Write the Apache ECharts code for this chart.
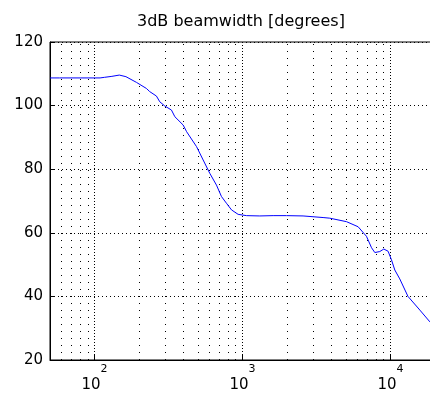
<!DOCTYPE html>
<html>
<head>
<meta charset="utf-8">
<script src="https://cdn.jsdelivr.net/npm/echarts@6/dist/echarts.min.js"></script>
<style>
html,body{margin:0;padding:0;background:#fff;}
#chart{width:430px;height:397px;}
</style>
</head>
<body>
<div id="chart"></div>
<script>
// Frequency (Hz) and 3dB beamwidth (degrees)
const freqs = [50, 58, 80, 109, 117, 131, 147, 163, 192, 224, 236, 262, 276, 298, 331, 349, 397, 419, 489, 542, 601, 667, 721, 779, 843, 934, 1064, 1309, 1611, 1982, 2566, 3505, 3890, 5044, 6045, 6883, 7449, 7838, 8470, 9016, 9640, 10160, 10700, 11560, 13130, 15800, 18460, 20000];
const beamwidth = [108.7, 108.7, 108.7, 108.7, 108.9, 109.2, 109.6, 109.1, 107.3, 105.4, 104.4, 103.0, 101.2, 99.9, 98.6, 96.5, 93.9, 91.8, 87.1, 82.9, 78.7, 75.0, 71.4, 69.3, 67.2, 65.8, 65.4, 65.3, 65.4, 65.4, 65.3, 64.8, 64.6, 63.5, 61.9, 58.9, 55.3, 53.8, 54.1, 54.9, 54.2, 51.5, 48.3, 45.5, 40.0, 35.7, 32.0, 30.8];
const minorGridX = [60, 70, 80, 90, 200, 300, 400, 500, 600, 700, 800, 900, 2000, 3000, 4000, 5000, 6000, 7000, 8000, 9000];
const yTicks = [20, 40, 60, 80, 100, 120];
const titleText = '3dB beamwidth [degrees]';

const FONT = 'DejaVu Sans';
const chart = echarts.init(document.getElementById('chart'), null, {renderer: 'canvas'});
chart.setOption({
  animation: false,
  backgroundColor: '#fff',
  title: {
    text: titleText,
    left: 132, top: 9,
    textStyle: {fontFamily: FONT, fontSize: 16, fontWeight: 'normal', color: '#000'}
  },
  grid: {left: 50, top: 42, width: 385, bottom: 37, outerBoundsMode: 'none', containLabel: false, show: true, borderColor: '#000', borderWidth: 1, backgroundColor: 'transparent'},
  xAxis: {
    type: 'log', logBase: 10, min: 50, max: 20000,
    axisLine: {show: true, lineStyle: {color: '#000', width: 1}},
    axisTick: {show: true, inside: true, length: 5, lineStyle: {color: '#000'}},
    splitLine: {show: true, lineStyle: {color: '#000', width: 1, type: [1, 2]}},
    axisLabel: {
      margin: 10,
      showMinLabel: true, showMaxLabel: true,
      formatter: function (v) {
        const e = Math.log10(v);
        if (Math.abs(e - Math.round(e)) > 1e-6) return '';
        return '{a|10}{b|' + Math.round(e) + '}';
      },
      rich: {
        a: {fontFamily: FONT, fontSize: 15, lineHeight: 15, color: '#000', padding: [16, 0, 0, 0]},
        b: {fontFamily: FONT, fontSize: 11, lineHeight: 12, color: '#000', padding: [0, 0, 17, 0]}
      }
    }
  },
  yAxis: {
    type: 'value', min: 20, max: 120, interval: 20,
    axisLine: {show: true, lineStyle: {color: '#000', width: 1}},
    axisTick: {show: true, inside: true, length: 5, lineStyle: {color: '#000'}},
    splitLine: {show: true, lineStyle: {color: '#000', width: 1, type: [1, 3]}},
    axisLabel: {
      margin: 7, fontFamily: FONT, fontSize: 15, color: '#000',
      formatter: function (v) { return yTicks.indexOf(v) >= 0 ? String(v) : ''; }
    }
  },
  series: [{
    type: 'line',
    data: freqs.map((f, i) => [f, beamwidth[i]]),
    showSymbol: false,
    symbol: 'none',
    lineStyle: {color: '#0000ff', width: 1},
    clip: true,
    markLine: {
      silent: true,
      symbol: ['none', 'none'],
      label: {show: false},
      lineStyle: {color: '#000', width: 1, type: [1, 6]},
      emphasis: {disabled: true},
      data: minorGridX.map(x => ({xAxis: x}))
    },
    z: 5
  }]
});
</script>
</body>
</html>
